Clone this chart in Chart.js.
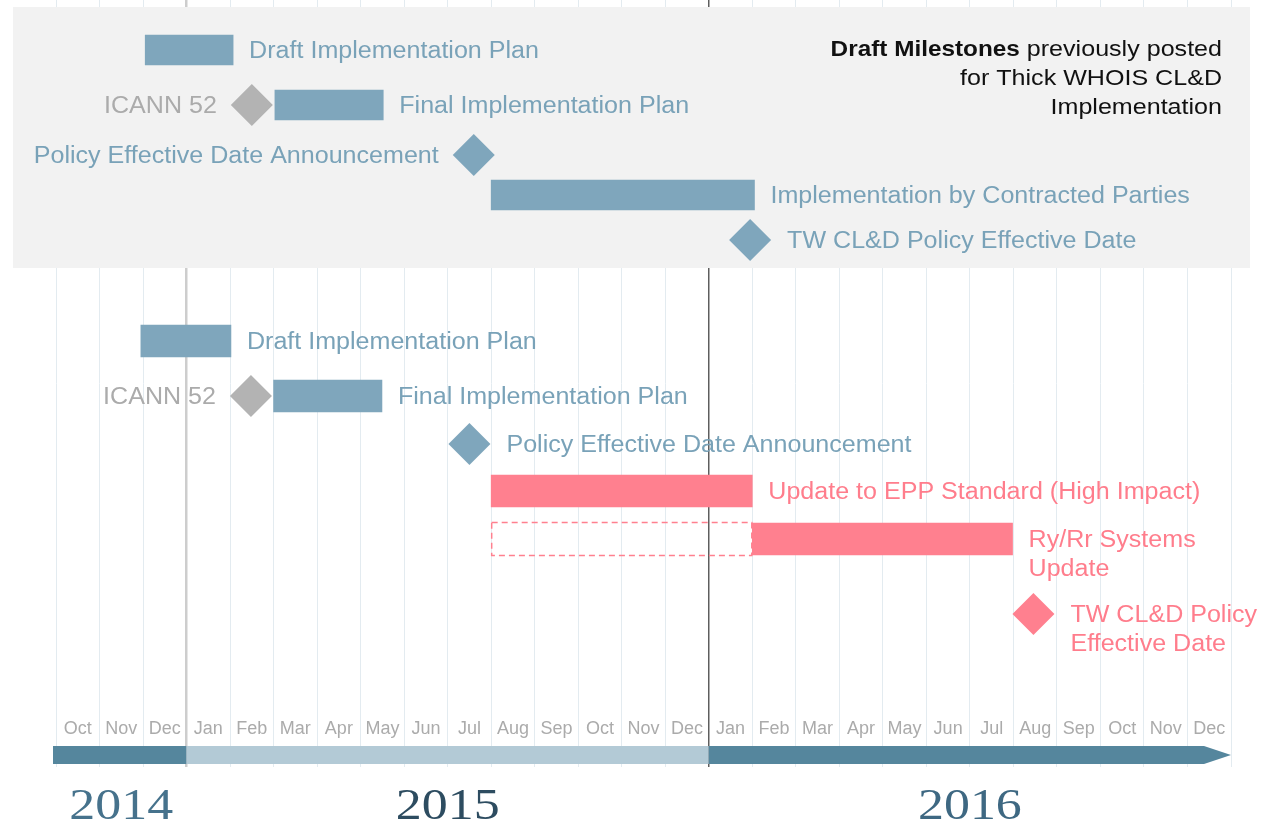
<!DOCTYPE html>
<html>
<head>
<meta charset="utf-8">
<script src="https://cdn.jsdelivr.net/npm/chart.js@4.4.1/dist/chart.umd.min.js"></script>
<style>
  html, body { margin: 0; padding: 0; background: #fff; }
  #wrap { width: 1279px; height: 828px; }
</style>
</head>
<body>
<div id="wrap"><canvas id="chart" width="1279" height="828"></canvas></div>
<script>
// months on the x axis, index 0 = Oct 2014
const months = ['Oct','Nov','Dec','Jan','Feb','Mar','Apr','May','Jun','Jul','Aug','Sep','Oct','Nov','Dec',
                'Jan','Feb','Mar','Apr','May','Jun','Jul','Aug','Sep','Oct','Nov','Dec'];
const years = ['2014', '2015', '2016'];
const yearStarts = [0, 3, 15];
const yearEnds = [3, 15, 27];

// top panel: draft milestones previously posted
const prevTasks = ['Draft Implementation Plan', 'Final Implementation Plan', 'Implementation by Contracted Parties'];
const prevTaskStart = [2.05, 5.03, 10];
const prevTaskEnd = [4.07, 7.52, 16.05];
const prevTaskRow = [1, 2.1, 3.9];
const prevMilestones = ['ICANN 52', 'Policy Effective Date Announcement', 'TW CL&D Policy Effective Date'];
const prevMilestoneAt = [4.5, 9.6, 15.95];
const prevMilestoneRow = [2.1, 3.1, 4.8];

// lower part: current plan
const tasks = ['Draft Implementation Plan', 'Final Implementation Plan', 'Update to EPP Standard (High Impact)', 'Ry/Rr Systems\nUpdate'];
const taskStart = [1.95, 5.0, 10, 16];
const taskEnd = [4.02, 7.49, 16, 21.98];
const taskRow = [6.82, 7.92, 9.82, 10.78];
const milestones = ['ICANN 52', 'Policy Effective Date Announcement', 'TW CL&D Policy\nEffective Date'];
const milestoneAt = [4.48, 9.5, 22.46];
const milestoneRow = [7.92, 8.88, 12.28];
// dashed window for Ry/Rr systems update
const ryrrWindow = [10, 16];

const monthRow = 14.54;
const timelineRow = 15.1;
const yearRow = 16.38;

const BLUE = '#7fa6bc', BLUE_TXT = '#79a2b8';
const GRAY = '#b3b3b3', GRAY_TXT = '#ababab';
const PINK = '#ff808f', PINK_TXT = '#ff7d8c';
const LABEL_FONT = '23px "Liberation Sans", Arial, sans-serif';

function stretchText(ctx, text, x, y, align, sx) {
  ctx.save();
  ctx.translate(x, y);
  ctx.scale(sx, 1);
  ctx.textAlign = align;
  ctx.textBaseline = 'alphabetic';
  ctx.fillText(text, 0, 0);
  ctx.restore();
}

const timelinePlugin = {
  id: 'timeline',
  beforeDatasetsDraw(chart) {
    const ctx = chart.ctx, x = chart.scales.x, y = chart.scales.y;
    ctx.save();
    // grey panel behind the old milestones
    ctx.fillStyle = '#f2f2f2';
    ctx.fillRect(13, 7, 1237, 261);

    // year band with arrow
    const yc = y.getPixelForValue(timelineRow), h = 18;
    const cols = ['#55869d', '#b3cad6', '#55869d'];
    years.forEach((yr, i) => {
      let x0 = x.getPixelForValue(yearStarts[i]);
      let x1 = x.getPixelForValue(yearEnds[i]);
      if (i === 0) x0 -= 3;
      ctx.fillStyle = cols[i];
      if (i === years.length - 1) {
        const tip = 27;
        ctx.fillRect(x0, yc - h / 2, x1 - tip - x0, h);
        ctx.beginPath();
        ctx.moveTo(x1 - tip, yc - h / 2);
        ctx.lineTo(x1, yc);
        ctx.lineTo(x1 - tip, yc + h / 2);
        ctx.closePath();
        ctx.fill();
      } else {
        ctx.fillRect(x0, yc - h / 2, x1 - x0, h);
      }
    });

    // month labels
    ctx.fillStyle = '#ababab';
    ctx.font = '18px "Liberation Sans", Arial, sans-serif';
    const my = y.getPixelForValue(monthRow) + 6.5;
    months.forEach((m, i) => stretchText(ctx, m, x.getPixelForValue(i + 0.5), my, 'center', 1.0));
    ctx.restore();
  },
  afterDatasetsDraw(chart) {
    const ctx = chart.ctx, x = chart.scales.x, y = chart.scales.y;
    ctx.save();

    // dashed window
    const dy = y.getPixelForValue(taskRow[3]);
    ctx.strokeStyle = PINK;
    ctx.lineWidth = 1.5;
    ctx.setLineDash([6, 4]);
    const wx0 = x.getPixelForValue(ryrrWindow[0]), wx1 = x.getPixelForValue(ryrrWindow[1]);
    ctx.strokeRect(wx0 + 0.5, dy - 16.5, wx1 - wx0 - 1, 33);
    ctx.setLineDash([]);

    // labels next to bars and diamonds
    ctx.font = LABEL_FONT;
    chart.data.datasets.forEach((ds, di) => {
      if (!ds.labels) return;
      const meta = chart.getDatasetMeta(di);
      meta.data.forEach((el, i) => {
        const side = ds.labelSide[i];
        const lines = ds.labels[i].split('\n');
        const isBar = ds.type === 'bar';
        const r = isBar ? 0 : ds.pointRadius;
        let tx;
        if (side === 'left') tx = (isBar ? el.base : el.x - r) - 14;
        else tx = (isBar ? el.x : el.x + r) + 16;
        ctx.fillStyle = ds.labelColor[i];
        lines.forEach((ln, k) => {
          stretchText(ctx, ln, tx, el.y + 8.3 + k * 29, side === 'left' ? 'right' : 'left', 1.09);
        });
      });
    });

    // panel caption
    const R = 1222, sx = 1.14;
    ctx.fillStyle = '#111';
    ctx.font = '22px "Liberation Sans", Arial, sans-serif';
    const rest = ' previously posted';
    const rw = ctx.measureText(rest).width * sx;
    stretchText(ctx, rest, R, 56, 'right', sx);
    ctx.font = 'bold 22px "Liberation Sans", Arial, sans-serif';
    stretchText(ctx, 'Draft Milestones', R - rw, 56, 'right', sx * 0.97);
    ctx.font = '22px "Liberation Sans", Arial, sans-serif';
    stretchText(ctx, 'for Thick WHOIS CL&D', R, 85, 'right', sx);
    stretchText(ctx, 'Implementation', R, 114, 'right', sx);

    // year labels
    const yCols = ['#46728c', '#2d4c60', '#3e6882'];
    ctx.font = '44px "Liberation Serif", "DejaVu Serif", serif';
    years.forEach((yr, i) => {
      ctx.fillStyle = yCols[i];
      const cx = x.getPixelForValue((yearStarts[i] + yearEnds[i]) / 2);
      stretchText(ctx, yr, cx, y.getPixelForValue(yearRow), 'center', 1.18);
    });
    ctx.restore();
  }
};

const toBars = (s, e, r) => s.map((v, i) => ({ x: [v, e[i]], y: r[i] }));
const toPoints = (a, r) => a.map((v, i) => ({ x: v, y: r[i] }));

const chart = new Chart(document.getElementById('chart').getContext('2d'), {
  type: 'scatter',
  data: {
    datasets: [
      {
        type: 'bar', indexAxis: 'y', grouped: false, barThickness: 30,
        data: toBars(prevTaskStart, prevTaskEnd, prevTaskRow),
        backgroundColor: BLUE, borderWidth: 0,
        labels: prevTasks, labelSide: ['right', 'right', 'right'],
        labelColor: [BLUE_TXT, BLUE_TXT, BLUE_TXT]
      },
      {
        type: 'bar', indexAxis: 'y', grouped: false, barThickness: 32,
        data: toBars(taskStart, taskEnd, taskRow),
        backgroundColor: [BLUE, BLUE, PINK, PINK], borderWidth: 0,
        labels: tasks, labelSide: ['right', 'right', 'right', 'right'],
        labelColor: [BLUE_TXT, BLUE_TXT, PINK_TXT, PINK_TXT]
      },
      {
        type: 'scatter', clip: false,
        data: toPoints(prevMilestoneAt, prevMilestoneRow),
        pointStyle: 'rectRot', pointRadius: 21, pointHoverRadius: 21, borderWidth: 0,
        backgroundColor: [GRAY, BLUE, BLUE],
        labels: prevMilestones, labelSide: ['left', 'left', 'right'],
        labelColor: [GRAY_TXT, BLUE_TXT, BLUE_TXT]
      },
      {
        type: 'scatter', clip: false,
        data: toPoints(milestoneAt, milestoneRow),
        pointStyle: 'rectRot', pointRadius: 21, pointHoverRadius: 21, borderWidth: 0,
        backgroundColor: [GRAY, BLUE, PINK],
        labels: milestones, labelSide: ['left', 'right', 'right'],
        labelColor: [GRAY_TXT, BLUE_TXT, PINK_TXT]
      }
    ]
  },
  options: {
    responsive: false,
    animation: false,
    devicePixelRatio: 1,
    // big diamonds would otherwise add automatic padding round the plot area
    layout: { autoPadding: false, padding: { left: 56, right: 48, top: 0, bottom: 61 } },
    plugins: { legend: { display: false }, tooltip: { enabled: false } },
    scales: {
      x: {
        type: 'linear', min: 0, max: 27, offset: false,
        ticks: { display: false, stepSize: 1, maxTicksLimit: 40 },
        grid: {
          offset: false, drawTicks: false,
          color: c => c.tick && c.tick.value === 15 ? '#5e5e5e' : (c.tick && c.tick.value === 3 ? '#cdcdcd' : '#e3ebf0'),
          lineWidth: c => c.tick && c.tick.value === 15 ? 1.5 : (c.tick && c.tick.value === 3 ? 2.5 : 1)
        },
        border: { display: false }
      },
      y: {
        type: 'linear', reverse: true, min: 0, max: 15.34, display: false,
        offset: false, grid: { offset: false }
      }
    }
  },
  plugins: [timelinePlugin]
});
</script>
</body>
</html>
